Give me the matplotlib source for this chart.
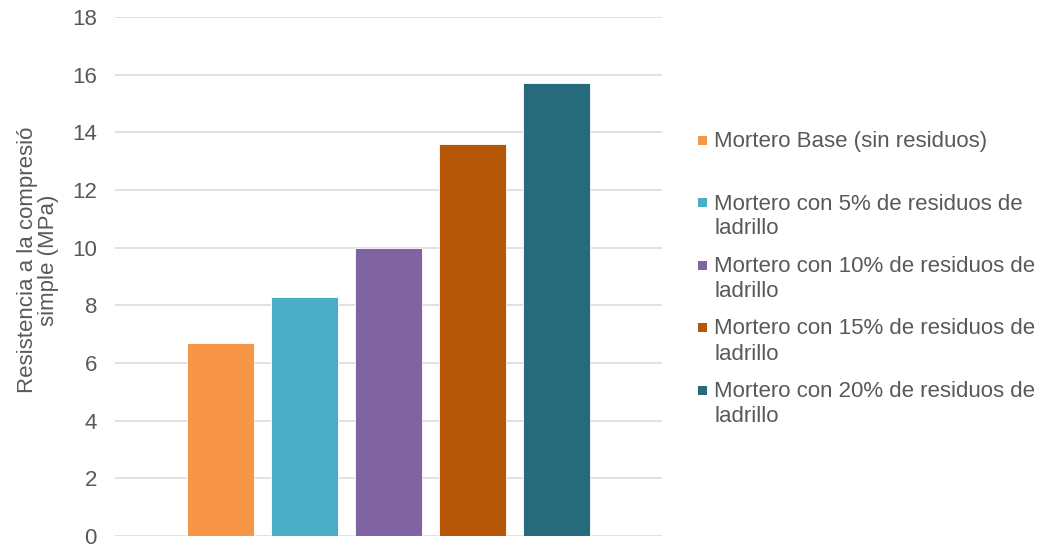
import matplotlib.pyplot as plt
from matplotlib.patches import Rectangle

# ── DATA ──────────────────────────────────────────────
mezclas = [
    'Mortero Base (sin residuos)',
    'Mortero con 5% de residuos de\nladrillo',
    'Mortero con 10% de residuos de\nladrillo',
    'Mortero con 15% de residuos de\nladrillo',
    'Mortero con 20% de residuos de\nladrillo',
]
resistencia = [6.7, 8.3, 10.0, 13.6, 15.7]   # MPa
y_ticks = [0, 2, 4, 6, 8, 10, 12, 14, 16, 18]

colores = ['#F79646', '#4BACC6', '#8064A2', '#B65708', '#276A7C']
gris = '#595959'

plt.rcParams['font.family'] = ['Liberation Sans', 'DejaVu Sans']
fs = 16

W, H = 1040, 547
fig = plt.figure(figsize=(W / 100, H / 100), dpi=100)
ax = fig.add_axes([115 / W, 1 - 536 / H, (662 - 115) / W, (536 - 17) / H])

pos = list(range(len(resistencia)))
ax.bar(pos, resistencia, width=0.786, color=colores, edgecolor='white', linewidth=0.6, zorder=3)

ax.set_xlim(2 - 3.256, 2 + 3.256)
ax.set_ylim(0, 18)
ax.set_yticks(y_ticks)
ax.set_xticks([])
ax.tick_params(axis='y', length=0, pad=13, labelsize=fs, labelcolor=gris)
ax.grid(axis='y', color='#D9D9D9', linewidth=1.1, zorder=0)
for s in ax.spines.values():
    s.set_visible(False)

# y axis title, two lines
fig.text(38 / W, 1 - 260 / H, 'Resistencia a la compresió\nsimple (MPa)',
         rotation=90, ha='center', va='center', multialignment='center',
         fontsize=fs, color=gris, linespacing=0.95)

# legend drawn by hand so every entry gets the same slot height
y0, paso = 140, 62.5
for i, (lab, col) in enumerate(zip(mezclas, colores)):
    yc = y0 + i * paso
    fig.patches.append(Rectangle((698 / W, 1 - (yc + 4.5) / H), 9 / W, 9 / H,
                                 transform=fig.transFigure, facecolor=col, edgecolor='none'))
    fig.text(714 / W, 1 - (yc - 9) / H, lab, ha='left', va='top',
             fontsize=fs, color=gris, linespacing=1.25)

fig.savefig('out.png', dpi=100, facecolor='white')
